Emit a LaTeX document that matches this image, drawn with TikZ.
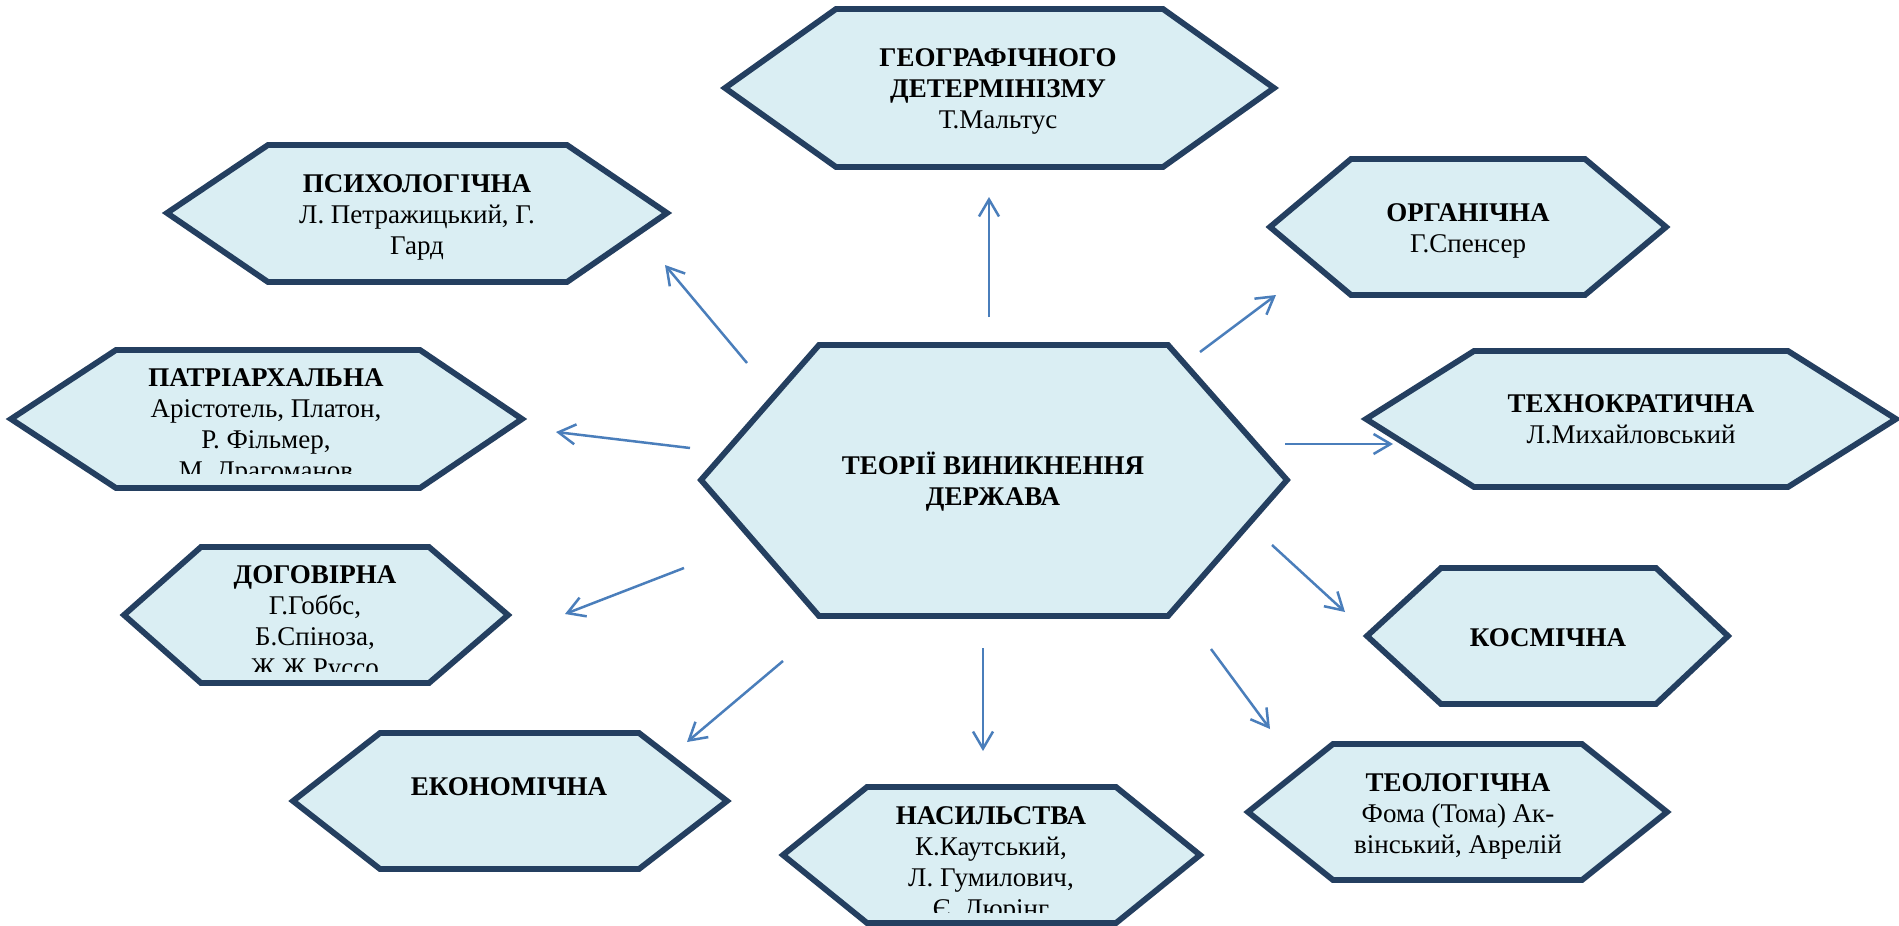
\documentclass[tikz,border=0pt]{standalone}
\usepackage{fontspec}
\setmainfont{Liberation Serif}
\usetikzlibrary{arrows.meta}
\definecolor{hexfill}{HTML}{DAEEF3}
\definecolor{hexline}{HTML}{243F60}
\definecolor{arrowc}{HTML}{4A7EBB}
% #1 left x, #2 top-left x, #3 top-right x, #4 right x, #5 top y, #6 bottom y, #7 middle y
\newcommand\hexagonat[7]{\path[hexbox] (#1,#7) -- (#2,#5) -- (#3,#5) -- (#4,#7) -- (#3,#6) -- (#2,#6) -- cycle;}
\begin{document}
\begin{tikzpicture}[x=1pt,y=-1pt,
  hexbox/.style={draw=hexline, fill=hexfill, line width=5.8pt, line join=miter},
  lbl/.style={align=center, inner sep=0pt, anchor=base, font=\fontsize{27}{31}\selectfont, text=black},
  conn/.style={draw=arrowc, line width=2.5pt, -{Straight Barb[length=17pt,width=20pt,line width=2.5pt]}}]
\useasboundingbox[fill=white] (0,0) rectangle (1899,926);

% hexagons
\hexagonat{725}{836}{1163}{1274}{9}{167}{88}
\hexagonat{167}{268}{567}{667}{145}{282}{213}
\hexagonat{1270}{1351}{1585}{1666}{159}{295}{227}
\hexagonat{11}{116}{420}{522}{350}{488}{419}
\hexagonat{1366}{1474}{1788}{1896}{351}{487}{419}
\hexagonat{701}{819}{1168}{1287}{345}{616}{480}
\hexagonat{124}{201}{429}{508}{547}{683}{615}
\hexagonat{1367}{1441}{1656}{1728}{568}{704}{636}
\hexagonat{293}{380}{639}{727}{733}{869}{801}
\hexagonat{783}{867}{1116}{1200}{787}{923}{855}
\hexagonat{1248}{1333}{1582}{1667}{744}{880}{812}

% texts (anchor = baseline of the last line)
\node[lbl] (geo) at (998,128) {\textbf{ГЕОГРАФІЧНОГО}\\\textbf{ДЕТЕРМІНІЗМУ}\\Т.Мальтус};
\node[lbl] (psy) at (417,254) {\textbf{ПСИХОЛОГІЧНА}\\Л. Петражицький, Г.\\Гард};
\node[lbl] (org) at (1468,252) {\textbf{ОРГАНІЧНА}\\Г.Спенсер};
\begin{scope}
  \clip (0,340) rectangle (600,473);
  \node[lbl] (pat) at (266,479) {\textbf{ПАТРІАРХАЛЬНА}\\Арістотель, Платон,\\Р. Фільмер,\\М. Драгоманов};
\end{scope}
\node[lbl] (tech) at (1631,443) {\textbf{ТЕХНОКРАТИЧНА}\\Л.Михайловський};
\node[lbl] (cen) at (993,505) {\textbf{ТЕОРІЇ ВИНИКНЕННЯ}\\\textbf{ДЕРЖАВА}};
\begin{scope}
  \clip (100,540) rectangle (530,671);
  \node[lbl] (dog) at (315,676) {\textbf{ДОГОВІРНА}\\Г.Гоббс,\\Б.Спіноза,\\Ж.Ж.Руссо};
\end{scope}
\node[lbl] (kos) at (1548,646) {\textbf{КОСМІЧНА}};
\node[lbl] (eko) at (509,795) {\textbf{ЕКОНОМІЧНА}};
\begin{scope}
  \clip (770,780) rectangle (1210,912);
  \node[lbl] (nas) at (991,917) {\textbf{НАСИЛЬСТВА}\\К.Каутський,\\Л. Гумилович,\\Є. Дюрінг};
\end{scope}
\node[lbl] (teo) at (1458,853) {\textbf{ТЕОЛОГІЧНА}\\Фома (Тома) Ак-\\вінський, Аврелій};

% connector end points
\coordinate (sGeo) at (989,317);  \coordinate (eGeo) at (989,197);
\coordinate (sPsy) at (747,363);  \coordinate (ePsy) at (665,265);
\coordinate (sOrg) at (1200,352); \coordinate (eOrg) at (1276,295);
\coordinate (sPat) at (690,448);  \coordinate (ePat) at (556,432);
\coordinate (sTech) at (1285,444);\coordinate (eTech) at (1393,444);
\coordinate (sDog) at (684,568);  \coordinate (eDog) at (565,614);
\coordinate (sKos) at (1272,545); \coordinate (eKos) at (1345,612);
\coordinate (sEko) at (783,661);  \coordinate (eEko) at (687,742);
\coordinate (sNas) at (983,648);  \coordinate (eNas) at (983,751);
\coordinate (sTeo) at (1211,649); \coordinate (eTeo) at (1270,729);

\foreach \a in {Geo,Psy,Org,Pat,Tech,Dog,Kos,Eko,Nas,Teo}
  \draw[conn] (s\a) -- (e\a);
\end{tikzpicture}
\end{document}
